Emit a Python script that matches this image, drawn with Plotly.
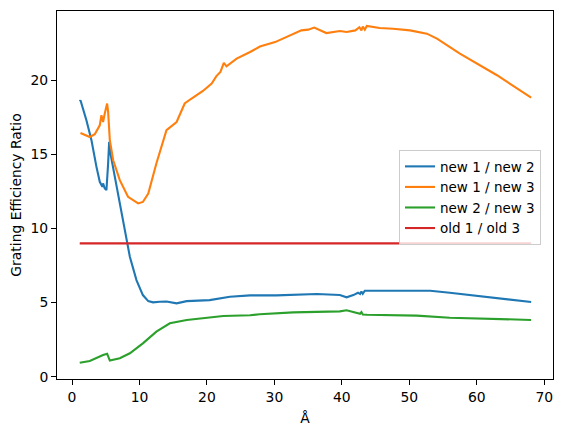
import plotly.graph_objects as go

# new 1 / new 2
x_b = [1.14, 1.25, 2.14, 2.88, 3.62, 4.11, 4.5, 4.6, 4.85, 5.1, 5.35, 5.5, 5.74, 6.34, 7.08,
       7.82, 8.57, 9.55, 10.5, 11.3, 12.0, 13.0, 14.0, 15.5, 17.0, 20.4, 22.4, 23.4, 26.4, 30.3,
       36.3, 39.7, 40.7, 41.7, 42.4, 42.7, 42.9, 43.1, 43.4, 48.6, 53.1, 56.0, 61.0, 68.06]
y_b = [18.6, 18.67, 17.3, 15.97, 14.17, 13.16, 12.82, 13.05, 12.71, 12.6, 14.4, 15.86, 14.96, 13.5, 11.47,
       9.68, 8.1, 6.52, 5.51, 5.1, 5.02, 5.06, 5.08, 4.95, 5.1, 5.17, 5.35, 5.4, 5.49, 5.49,
       5.58, 5.51, 5.36, 5.51, 5.67, 5.58, 5.75, 5.6, 5.8, 5.8, 5.8, 5.67, 5.4, 5.04]

# new 1 / new 3
x_o = [1.25, 2.63, 3.37, 4.11, 4.36, 4.6, 4.85, 5.2, 5.35, 5.6, 6.1, 7.08, 8.3, 9.8, 10.5,
       11.3, 12.5, 14.0, 15.5, 16.7, 17.5, 19.4, 20.7, 21.4, 22.0, 22.5, 22.9, 24.4, 26.4, 27.85,
       30.1, 32.3, 34.0, 35.0, 35.9, 37.7, 39.7, 40.7, 42.0, 42.6, 42.9, 43.1, 43.4, 43.7, 45.6,
       47.6, 50.1, 52.6, 54.1, 57.5, 63.0, 68.06]
y_o = [16.46, 16.19, 16.38, 16.98, 17.66, 17.2, 17.77, 18.45, 17.88, 15.97, 14.62, 13.27, 12.15, 11.7, 11.8,
       12.37, 14.4, 16.65, 17.2, 18.45, 18.72, 19.3, 19.8, 20.3, 20.58, 21.19, 20.96, 21.48, 21.93, 22.3,
       22.6, 23.06, 23.39, 23.44, 23.58, 23.21, 23.35, 23.28, 23.39, 23.6, 23.39, 23.65, 23.44, 23.69, 23.55,
       23.5, 23.39, 23.17, 22.83, 21.82, 20.36, 18.85]

# new 2 / new 3
x_g = [1.14, 2.63, 4.6, 5.2, 5.6, 7.08, 8.57, 10.5, 12.5, 14.5, 17.0, 20.4, 22.4, 26.4, 27.8,
       32.8, 39.7, 40.7, 42.2, 42.7, 42.9, 43.1, 43.7, 51.1, 56.0, 68.06]
y_g = [0.94, 1.06, 1.46, 1.55, 1.08, 1.24, 1.58, 2.25, 3.04, 3.6, 3.83, 3.98, 4.1, 4.15, 4.21,
       4.34, 4.41, 4.48, 4.34, 4.25, 4.36, 4.2, 4.18, 4.12, 3.98, 3.83]

# old 1 / old 3
x_r = [1.14, 68.06]
y_r = [9.0, 9.0]

names = ["new 1 / new 2", "new 1 / new 3", "new 2 / new 3", "old 1 / old 3"]
colors = ["#1f77b4", "#ff7f0e", "#2ca02c", "#d62728"]
series = [(x_b, y_b), (x_o, y_o), (x_g, y_g), (x_r, y_r)]

fig = go.Figure()
for (xs, ys), n, c in zip(series, names, colors):
    fig.add_trace(go.Scatter(x=xs, y=ys, mode="lines", name=n,
                             line=dict(color=c, width=2.1)))

font = "DejaVu Sans"
fs = 13.9
fig.update_layout(
    width=562, height=437,
    margin=dict(l=57, r=9, t=11, b=58),
    paper_bgcolor="white", plot_bgcolor="white",
    font=dict(family=font, size=fs, color="black"),
    showlegend=True,
    legend=dict(x=0.6895, y=0.622, xanchor="left", yanchor="top",
                bgcolor="rgba(255,255,255,0.8)", bordercolor="#cccccc", borderwidth=1,
                font=dict(size=13.5), itemwidth=30, tracegroupgap=0),
    xaxis=dict(range=[-2.23, 71.3], tickvals=[0, 10, 20, 30, 40, 50, 60, 70],
               showline=True, linecolor="black", linewidth=1, mirror=True,
               ticks="outside", ticklen=5, tickwidth=1, tickcolor="black",
               showgrid=False, zeroline=False, automargin=False,
               title=dict(text="Å", standoff=9, font=dict(size=fs))),
    yaxis=dict(range=[-0.16, 24.7], tickvals=[0, 5, 10, 15, 20],
               showline=True, linecolor="black", linewidth=1, mirror=True,
               ticks="outside", ticklen=5, tickwidth=1, tickcolor="black",
               showgrid=False, zeroline=False, automargin=False,
               title=dict(text="Grating Efficiency Ratio", standoff=5, font=dict(size=fs))),
)

fig.write_html("out.html", config={"displayModeBar": False},
               post_script="document.body.style.margin='0';")
